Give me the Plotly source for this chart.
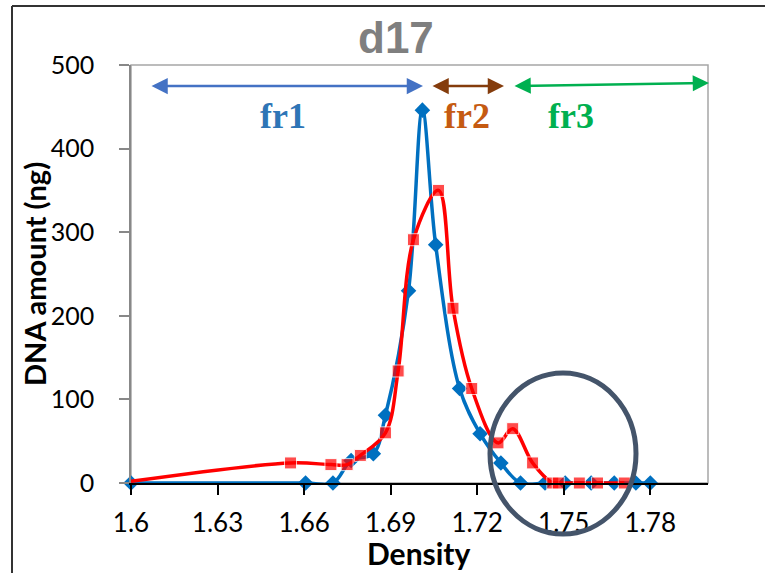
import plotly.graph_objects as go

# ---- data ----
blue_density = [1.600, 1.6605, 1.6700, 1.6763, 1.6840, 1.6882, 1.6962, 1.7010, 1.7056,
                1.7139, 1.7210, 1.7282, 1.7350, 1.7435, 1.7505, 1.7595, 1.7675, 1.7750, 1.7800]
blue_dna = [0, 0, 0, 27, 35, 81, 230, 446, 285, 113, 59, 24, 0, 0, 0, 0, 0, 0, 0]

red_density = [1.600, 1.6553, 1.6693, 1.6749, 1.6795, 1.6882, 1.6926, 1.6979, 1.7066,
               1.7116, 1.7181, 1.7272, 1.7323, 1.7392, 1.7462, 1.7481, 1.7554, 1.7617, 1.7710]
red_dna = [2, 24, 22, 22, 33, 60, 134, 291, 350, 209, 113, 48, 65, 24, 0, 0, 0, 0, 0]

x_ticks = [1.6, 1.63, 1.66, 1.69, 1.72, 1.75, 1.78]
x_tick_labels = ["1.6", "1.63", "1.66", "1.69", "1.72", "1.75", "1.78"]
y_ticks = [0, 100, 200, 300, 400, 500]

title_text = "d17"
x_title = "Density"
y_title = "DNA amount (ng)"
fraction_labels = ["fr1", "fr2", "fr3"]

# ---- figure ----
W, H = 765, 573
L, R, T, B = 131, 57, 65, 90
pw, ph = W - L - R, H - T - B

def px_x(p):
    return (p - L) / pw

def px_y(p):
    return (H - B - p) / ph

tick_font = dict(family="Lato, Liberation Sans, sans-serif", size=26, color="#000000")
ytick_font = dict(family="Lato, Liberation Sans, sans-serif", size=25, color="#000000")
title_font = dict(family="Lato, Liberation Sans, sans-serif", size=30, color="#000000")
ytitle_font = dict(family="Lato, Liberation Sans, sans-serif", size=29, color="#000000")

fig = go.Figure()

red_sizes = [0] + [12] * (len(red_density) - 1)

fig.add_trace(go.Scatter(
    x=blue_density, y=blue_dna, mode="lines+markers",
    line=dict(color="#0070C0", width=3.5, shape="spline", smoothing=1),
    marker=dict(symbol="diamond", size=12, color="#0070C0"),
    cliponaxis=False, showlegend=False))

fig.add_trace(go.Scatter(
    x=red_density, y=red_dna, mode="lines+markers",
    line=dict(color="#FF0000", width=3.5, shape="spline", smoothing=1),
    marker=dict(symbol="square", size=red_sizes, color="#FF0000"),
    cliponaxis=False, showlegend=False))

shapes = [
    # plot area frame (top/right gray)
    dict(type="rect", xref="paper", yref="paper", x0=0, x1=1, y0=0, y1=1,
         line=dict(color="#A6A6A6", width=1.5), layer="below"),
    # outer slide frame
    dict(type="line", xref="paper", yref="paper", x0=px_x(12), x1=px_x(W + 5),
         y0=px_y(6), y1=px_y(6), line=dict(color="#333333", width=2)),
    dict(type="line", xref="paper", yref="paper", x0=px_x(12), x1=px_x(12),
         y0=px_y(6), y1=px_y(H + 5), line=dict(color="#333333", width=2)),
    # highlight ellipse
    dict(type="circle", xref="paper", yref="paper",
         x0=px_x(490), x1=px_x(636), y0=px_y(534), y1=px_y(373),
         line=dict(color="#44546A", width=5), layer="above"),
]

annotations = [
    dict(text="<b>%s</b>" % title_text, xref="paper", yref="paper", x=px_x(396), y=px_y(37),
         xanchor="center", yanchor="middle", showarrow=False,
         font=dict(family="Liberation Sans, Arial, sans-serif", size=44, color="#7F7F7F")),
    dict(text="<b>%s</b>" % x_title, xref="paper", yref="paper", x=px_x(419), y=px_y(553),
         xanchor="center", yanchor="middle", showarrow=False, font=title_font),
    dict(text="<b>%s</b>" % y_title, xref="paper", yref="paper", x=px_x(34), y=px_y(274),
         xanchor="center", yanchor="middle", showarrow=False, textangle=-90, font=ytitle_font),
]

arrows = [
    (150, 423, 86, 86, "#4472C4"),
    (431, 504, 86, 86, "#843C0C"),
    (513, 709, 86, 83, "#00B050"),
]
for x0, x1, y0, y1, col in arrows:
    annotations.append(dict(
        text="", xref="paper", yref="paper", x=px_x(x1), y=px_y(y1),
        ax=-(x1 - x0), ay=(y0 - y1), axref="pixel", ayref="pixel",
        showarrow=True, arrowhead=2, arrowside="end+start", arrowsize=1.3,
        arrowwidth=2.5, arrowcolor=col, standoff=0, startstandoff=0))

label_pos = [(283, 116, "#2E75B6"), (467, 116, "#C55A11"), (571, 116, "#00B050")]
for lab, (cx, cy, col) in zip(fraction_labels, label_pos):
    annotations.append(dict(
        text="<b>%s</b>" % lab, xref="paper", yref="paper", x=px_x(cx), y=px_y(cy),
        xanchor="center", yanchor="middle", showarrow=False,
        font=dict(family="Liberation Serif, Times New Roman, serif", size=36, color=col)))

fig.update_layout(
    width=W, height=H,
    margin=dict(l=L, r=R, t=T, b=B, pad=0, autoexpand=False),
    paper_bgcolor="white", plot_bgcolor="white",
    shapes=shapes, annotations=annotations,
    xaxis=dict(
        range=[1.6, 1.8], tickvals=x_ticks, ticktext=x_tick_labels,
        showgrid=False, zeroline=False, automargin=False,
        showline=True, linecolor="#000000", linewidth=1.5,
        ticks="outside", ticklen=10, tickcolor="#000000", tickwidth=1.5,
        ticklabelstandoff=6, tickfont=tick_font,
    ),
    yaxis=dict(
        range=[0, 500], tickvals=y_ticks,
        showgrid=False, zeroline=False, automargin=False,
        showline=True, linecolor="#888888", linewidth=1.5,
        ticks="outside", ticklen=10, tickcolor="#888888", tickwidth=1.5,
        ticklabelstandoff=20, tickfont=ytick_font,
    ),
)

fig.write_html("out.html", config={"displayModeBar": False},
               post_script="document.body.style.margin='0';document.body.style.overflow='hidden';")
